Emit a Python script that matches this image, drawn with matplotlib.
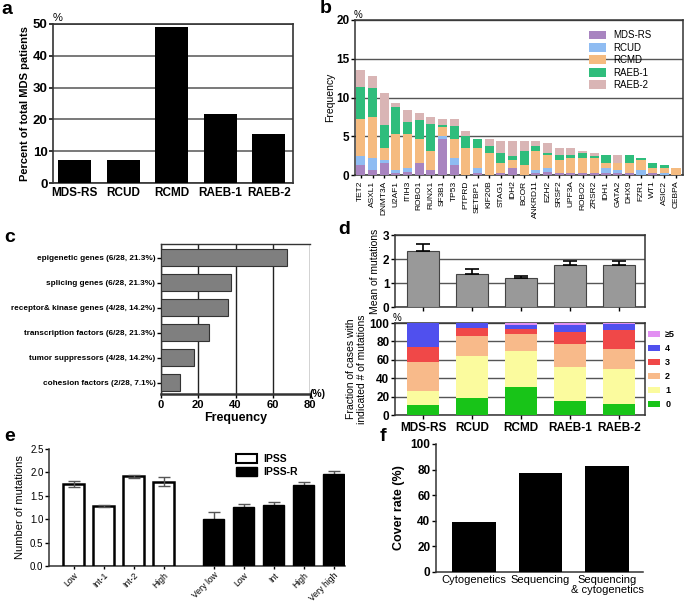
import matplotlib
matplotlib.use("Agg")
import matplotlib.pyplot as plt
from matplotlib.patches import Patch
import numpy as np

plt.rcParams['font.family'] = ['Liberation Sans', 'DejaVu Sans']

# ---------------- data ----------------
a_cats = ["MDS-RS", "RCUD", "RCMD", "RAEB-1", "RAEB-2"]
a_vals = [7.3, 7.3, 49.0, 21.8, 15.4]

b_genes = ["TET2", "ASXL1", "DNMT3A", "U2AF1", "ITIH3", "ROBO1", "RUNX1", "SF3B1", "TP53",
           "PTPRD", "SETBP1", "KIF20B", "STAG1", "IDH2", "BCOR", "ANKRD11", "EZH2", "SRSF2",
           "UPF3A", "ROBO2", "ZRSR2", "IDH1", "GATA2", "DHX9", "FZR1", "WT1", "ASIC2", "CEBPA"]
b_mdsrs = [1.3, 0.65, 1.55, 0.2, 0.4, 1.55, 0.65, 4.6, 1.3, 0.0, 0.3, 0.0, 0.3, 0.9, 0.0, 0.3,
           0.4, 0.3, 0.3, 0.3, 0.3, 0.3, 0.3, 0.3, 0.0, 0.3, 0.0, 0.0]
b_rcud = [1.2, 1.5, 0.45, 0.45, 0.55, 0.0, 0.0, 0.4, 0.9, 0.0, 0.55, 0.0, 0.0, 0.0, 0.0, 0.35,
          0.5, 0.0, 0.0, 0.0, 0.0, 0.6, 0.35, 0.0, 0.65, 0.0, 0.3, 0.0]
b_rcmd = [4.7, 5.35, 1.5, 4.6, 4.3, 3.1, 2.45, 1.2, 2.5, 3.5, 2.65, 2.8, 1.25, 1.0, 1.25, 2.5,
          1.65, 1.6, 1.9, 1.9, 1.9, 0.65, 0.9, 1.25, 1.25, 0.6, 0.6, 0.95]
b_raeb1 = [4.1, 3.7, 3.0, 3.55, 1.65, 2.5, 3.5, 0.3, 1.6, 1.5, 1.2, 1.0, 1.25, 0.6, 1.9, 0.65,
           0.35, 0.65, 0.35, 0.65, 0.3, 1.0, 0.0, 1.0, 0.3, 0.65, 0.35, 0.0]
b_raeb2 = [2.2, 1.6, 4.1, 0.55, 1.5, 0.9, 0.9, 0.7, 0.9, 0.65, 0.0, 0.9, 1.6, 1.9, 1.25, 0.6,
           1.2, 0.9, 0.9, 0.3, 0.3, 0.0, 1.0, 0.0, 0.0, 0.0, 0.0, 0.0]
b_series = ["MDS-RS", "RCUD", "RCMD", "RAEB-1", "RAEB-2"]

c_cats = ["epigenetic genes (6/28, 21.3%)", "splicing genes (6/28, 21.3%)",
          "receptor& kinase genes (4/28, 14.2%)", "transcription factors (6/28, 21.3%)",
          "tumor suppressors (4/28, 14.2%)", "cohesion factors (2/28, 7.1%)"]
c_vals = [67.5, 37.5, 36.0, 26.0, 17.5, 10.0]

d_cats = ["MDS-RS", "RCUD", "RCMD", "RAEB-1", "RAEB-2"]
d_mean = [2.33, 1.37, 1.20, 1.77, 1.77]
d_err = [0.29, 0.23, 0.08, 0.15, 0.16]
d_levels = ["0", "1", "2", "3", "4", "\u22655"]
d_frac0 = [10.5, 18.0, 30.5, 15.5, 12.0]
d_frac1 = [15.5, 46.0, 39.0, 37.0, 38.0]
d_frac2 = [32.0, 22.0, 19.0, 24.5, 22.0]
d_frac3 = [16.0, 9.0, 5.5, 13.0, 20.0]
d_frac4 = [26.0, 5.0, 4.0, 7.5, 6.5]
d_frac5 = [0.0, 0.0, 2.0, 2.5, 1.5]

e_ipss_cats = ["Low", "Int-1", "Int-2", "High"]
e_ipss_vals = [1.75, 1.28, 1.92, 1.80]
e_ipss_err = [0.07, 0.02, 0.03, 0.10]
e_ipssr_cats = ["Very low", "Low", "Int", "High", "Very high"]
e_ipssr_vals = [1.01, 1.27, 1.30, 1.73, 1.97]
e_ipssr_err = [0.15, 0.06, 0.06, 0.07, 0.05]

f_cats = ["Cytogenetics", "Sequencing", "Sequencing\n& cytogenetics"]
f_vals = [39.0, 77.0, 83.0]

# ---------------- figure ----------------
W, H = 685, 604
fig = plt.figure(figsize=(W / 100, H / 100), dpi=100)


def ax_px(x0, y0, x1, y1):
    return fig.add_axes([x0 / W, 1 - y1 / H, (x1 - x0) / W, (y1 - y0) / H])


def letter(x, y, s):
    fig.text(x / W, 1 - y / H, s, fontsize=14, fontweight='bold', va='top', ha='left')


SP = '#333333'
GRID = '#555555'


def style_spines(ax, lw=1.2, box=True):
    for k, s in ax.spines.items():
        s.set_linewidth(lw)
        s.set_color(SP)
    if not box:
        ax.spines['top'].set_visible(False)
        ax.spines['right'].set_visible(False)


# ---- panel a ----
ax = ax_px(53, 24, 293, 183)
x = np.arange(len(a_cats))
ax.bar(x, a_vals, width=0.68, color='black', zorder=3)
ax.set_xlim(-0.45, 4.5)
ax.set_ylim(0, 50)
ax.set_yticks([0, 10, 20, 30, 40, 50])
ax.set_xticks(x)
ax.set_xticklabels(a_cats, fontsize=8.5, fontweight='bold')
for t in ax.get_yticklabels():
    t.set_fontsize(9.5); t.set_fontweight('bold')
ax.yaxis.grid(True, color=GRID, lw=1.1)
ax.set_axisbelow(True)
ax.tick_params(axis='x', length=0, pad=3)
ax.tick_params(axis='y', length=3, width=1.1, pad=1)
ax.set_ylabel("Percent of total MDS patients", fontsize=8, fontweight='bold', labelpad=2)
style_spines(ax)
ax.text(0.0, 1.005, "%", transform=ax.transAxes, fontsize=8, va='bottom', ha='left')
letter(1, 1, "a")

# ---- panel b ----
ax = ax_px(355, 20, 683, 175)
x = np.arange(len(b_genes))
b_colors = ['#a884c0', '#8fbcf2', '#f5bb80', '#2fbd7c', '#d9b5b5']
bottom = np.zeros(len(b_genes))
for name, vals, col in zip(b_series, [b_mdsrs, b_rcud, b_rcmd, b_raeb1, b_raeb2], b_colors):
    ax.bar(x, vals, width=0.78, bottom=bottom, color=col, label=name, zorder=3)
    bottom = bottom + np.array(vals)
ax.set_xlim(-0.5, 27.6)
ax.set_ylim(0, 20)
ax.set_yticks([0, 5, 10, 15, 20])
ax.set_xticks(x)
ax.set_xticklabels(b_genes, rotation=90, fontsize=6)
for t in ax.get_yticklabels():
    t.set_fontsize(8.5); t.set_fontweight('bold')
ax.yaxis.grid(True, color=GRID, lw=1.0)
ax.set_axisbelow(True)
ax.tick_params(axis='x', length=2.5, width=1, pad=1.5)
ax.tick_params(axis='y', length=3, width=1, pad=1)
ax.set_ylabel("Frequency", fontsize=7.5, labelpad=1)
style_spines(ax, lw=1.1)
ax.text(-0.005, 1.0, "%", transform=ax.transAxes, fontsize=7, va='bottom', ha='left')
ax.legend(loc='upper right', bbox_to_anchor=(0.93, 0.99), frameon=False, fontsize=7,
          handlelength=1.8, handleheight=1.0, labelspacing=0.25, handletextpad=0.7)
letter(320, 0, "b")

# ---- panel c ----
ax = ax_px(161, 244, 310, 394)
y = np.arange(len(c_cats))
ax.barh(y, c_vals, height=0.67, color='#7f7f7f', edgecolor='#333333', lw=0.8, zorder=3)
ax.set_ylim(5.45, -0.55)
ax.set_xlim(0, 80)
ax.set_xticks([0, 20, 40, 60, 80])
ax.set_yticks(y)
ax.set_yticklabels(c_cats, fontsize=5.9, fontweight='bold')
for t in ax.get_xticklabels():
    t.set_fontsize(8); t.set_fontweight('bold')
ax.xaxis.grid(True, color='#222222', lw=1.0)
ax.set_axisbelow(True)
ax.tick_params(axis='y', length=3, width=1, pad=1)
ax.tick_params(axis='x', length=3, width=1, pad=1)
ax.set_xlabel("Frequency", fontsize=9, fontweight='bold', labelpad=2)
style_spines(ax, lw=1.0)
ax.spines['right'].set_visible(False)
ax.spines['bottom'].set_linewidth(1.8)
ax.text(1.0, 0.0, "(%)", transform=ax.transAxes, fontsize=7.5, fontweight='bold',
        va='center', ha='left')
letter(4, 229, "c")

# ---- panel d (top) ----
ax = ax_px(395, 235, 645, 307)
x = np.arange(len(d_cats))
ax.bar(x, d_mean, width=0.66, color='#999999', edgecolor='#444444', lw=0.8, zorder=3,
       yerr=[np.zeros(len(d_err)), d_err], capsize=5,
       error_kw=dict(ecolor='black', elinewidth=1.2, capthick=1.2))
ax.set_xlim(-0.57, 4.53)
ax.set_ylim(0, 3)
ax.set_yticks([0, 1, 2, 3])
ax.set_xticks(x)
ax.set_xticklabels([])
for t in ax.get_yticklabels():
    t.set_fontsize(8.5); t.set_fontweight('bold')
ax.yaxis.grid(True, color=GRID, lw=1.0)
ax.set_axisbelow(True)
ax.tick_params(axis='x', length=3, width=1)
ax.tick_params(axis='y', length=3, width=1, pad=1)
ax.set_ylabel("Mean of mutations", fontsize=7.5, labelpad=2)
style_spines(ax, lw=1.1)
letter(338, 221, "d")

# ---- panel d (bottom) ----
ax = ax_px(395, 323, 645, 415)
d_colors = ['#18c418', '#fbfb9e', '#f8ba8a', '#f04848', '#5050ee', '#e290f2']
bottom = np.zeros(len(d_cats))
handles = []
for lab, vals, col in zip(d_levels, [d_frac0, d_frac1, d_frac2, d_frac3, d_frac4, d_frac5], d_colors):
    ax.bar(x, vals, width=0.67, bottom=bottom, color=col, zorder=3)
    bottom = bottom + np.array(vals)
    handles.append(Patch(facecolor=col, label=lab))
ax.set_xlim(-0.57, 4.53)
ax.set_ylim(0, 100)
ax.set_yticks([0, 20, 40, 60, 80, 100])
ax.set_xticks(x)
ax.set_xticklabels(d_cats, fontsize=8.5, fontweight='bold')
for t in ax.get_yticklabels():
    t.set_fontsize(8.5); t.set_fontweight('bold')
ax.yaxis.grid(True, color=GRID, lw=1.0)
ax.set_axisbelow(True)
ax.tick_params(axis='x', length=3, width=1, pad=2)
ax.tick_params(axis='y', length=3, width=1, pad=1)
ax.set_ylabel("Fraction of cases with\nindicated # of mutations", fontsize=7.5, labelpad=2,
              linespacing=1.1)
style_spines(ax, lw=1.1)
ax.text(-0.01, 1.0, "%", transform=ax.transAxes, fontsize=7, va='bottom', ha='left')
leg = ax.legend(handles=handles[::-1], loc='upper left', bbox_to_anchor=(1.005, 0.94),
                frameon=False, fontsize=6.5, handlelength=1.3, handleheight=0.7,
                labelspacing=0.55, handletextpad=0.6, borderaxespad=0.1, borderpad=0.1)
for t in leg.get_texts():
    t.set_fontweight('bold')

# ---- panel e ----
ax = ax_px(49, 449, 345, 566)
xi = np.arange(len(e_ipss_cats))
xr = np.arange(len(e_ipssr_cats)) + 4.67
ax.bar(xi, e_ipss_vals, width=0.68, color='white', edgecolor='black', lw=1.8, zorder=3,
       yerr=e_ipss_err, capsize=4,
       error_kw=dict(ecolor='#555555', elinewidth=1.0, capthick=1.0, zorder=4))
ax.bar(xr, e_ipssr_vals, width=0.68, color='black', edgecolor='black', lw=1.0, zorder=3,
       yerr=e_ipssr_err, capsize=4,
       error_kw=dict(ecolor='#555555', elinewidth=1.0, capthick=1.0, zorder=2))
ax.set_xlim(-0.82, 9.05)
ax.set_ylim(0, 2.5)
ax.set_yticks([0.0, 0.5, 1.0, 1.5, 2.0, 2.5])
ax.set_yticklabels(["0.0", "0.5", "1.0", "1.5", "2.0", "2.5"], fontsize=7)
ax.set_xticks(np.concatenate([xi, xr]))
ax.set_xticklabels(e_ipss_cats + e_ipssr_cats, rotation=45, ha='right',
                   rotation_mode='anchor', fontsize=6.2)
ax.tick_params(axis='x', length=2.5, width=1, pad=1)
ax.tick_params(axis='y', length=3, width=1, pad=1)
ax.set_ylabel("Number of mutations", fontsize=8, labelpad=4)
style_spines(ax, lw=1.1, box=False)
ax.legend(handles=[Patch(facecolor='white', edgecolor='black', lw=1.5, label='IPSS'),
                   Patch(facecolor='black', edgecolor='black', label='IPSS-R')],
          loc='upper left', bbox_to_anchor=(0.6, 1.04), frameon=False,
          prop=dict(size=7.5, weight='bold'), handlelength=2.0, handleheight=1.0,
          labelspacing=0.3, handletextpad=0.6)
letter(4, 428, "e")

# ---- panel f ----
ax = ax_px(436, 444, 643, 572)
x = np.arange(len(f_cats))
ax.bar(x, f_vals, width=0.66, color='black', zorder=3)
ax.set_xlim(-0.57, 2.54)
ax.set_ylim(0, 100)
ax.set_yticks([0, 20, 40, 60, 80, 100])
ax.set_xticks(x)
ax.set_xticklabels(f_cats, fontsize=8, linespacing=1.05)
for t in ax.get_yticklabels():
    t.set_fontsize(8.5); t.set_fontweight('bold')
ax.tick_params(axis='x', length=0, pad=2)
ax.tick_params(axis='y', length=3, width=1, pad=1)
ax.set_ylabel("Cover rate (%)", fontsize=9, fontweight='bold', labelpad=4)
style_spines(ax, lw=1.1, box=False)
letter(380, 428, "f")

fig.savefig("out.png", dpi=100)
